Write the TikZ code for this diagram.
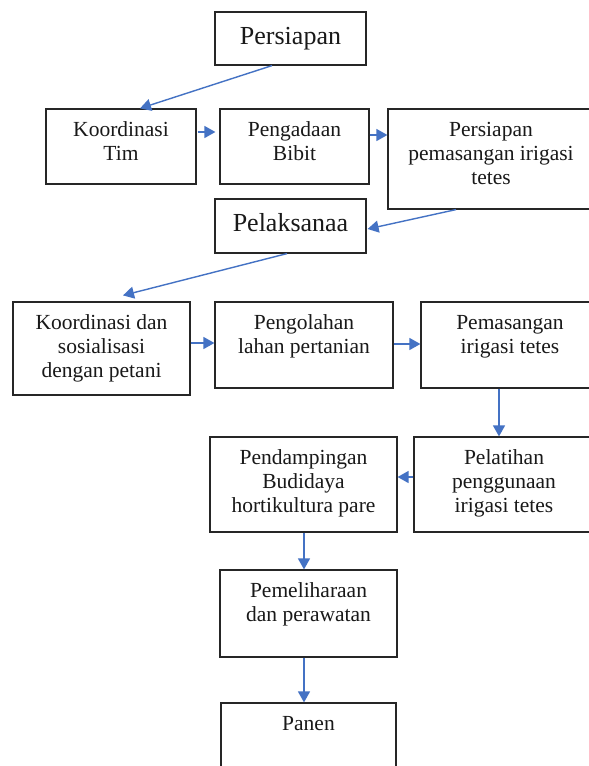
\documentclass[tikz,border=0pt]{standalone}
\usepackage{fontspec}
\setmainfont{Liberation Serif}
\usetikzlibrary{arrows.meta,calc}
\definecolor{arrowblue}{HTML}{4472C4}
\begin{document}
\begin{tikzpicture}[x=1pt,y=-1pt,
  box/.style={draw=black!85, line width=1.2pt, inner sep=0pt, rectangle},
  txt/.style={inner sep=0pt, anchor=north, align=center, text=black!90, font=\fontsize{21.5}{24}\selectfont},
  bigtxt/.style={inner sep=0pt, anchor=base, text=black!90, font=\fontsize{26}{30}\selectfont},
  arr/.style={draw=arrowblue, line width=1.4pt, -{Triangle[length=11pt,width=12pt]}}]
\fill[white] (0,0) rectangle (589,766);
\useasboundingbox (0,0) rectangle (589,766);
\clip (0,0) rectangle (589,766);
% boxes
\node[box, minimum width=151, minimum height=53] (P0) at (290.5,38.5) {};
\node[box, minimum width=150, minimum height=75] (KT) at (121,146.5) {};
\node[box, minimum width=149, minimum height=75] (PB) at (294.5,146.5) {};
\node[box, minimum width=206, minimum height=100] (PPI) at (491,159) {};
\node[box, minimum width=151, minimum height=54] (PL) at (290.5,226) {};
\node[box, minimum width=177, minimum height=93] (KDS) at (101.5,348.5) {};
\node[box, minimum width=178, minimum height=86] (PLP) at (304,345) {};
\node[box, minimum width=178, minimum height=86] (PIT) at (510,345) {};
\node[box, minimum width=180, minimum height=95] (PEL) at (504,484.5) {};
\node[box, minimum width=187, minimum height=95] (PBH) at (303.5,484.5) {};
\node[box, minimum width=177, minimum height=87] (PP) at (308.5,613.5) {};
\node[box, minimum width=175, minimum height=87] (PAN) at (308.5,746.5) {};
% texts
\node[bigtxt] (tP0) at ($(P0.north)+(0,33)$) {Persiapan};
\node[bigtxt] (tPL) at ($(PL.north)+(0,33)$) {Pelaksanaa};
\node[txt] (tKT) at ($(KT.north)+(0,11.2)$) {\strut Koordinasi\\Tim};
\node[txt] (tPB) at ($(PB.north)+(0,11.2)$) {\strut Pengadaan\\Bibit};
\node[txt] (tPPI) at ($(PPI.north)+(0,11.2)$) {\strut Persiapan\\pemasangan irigasi\\tetes};
\node[txt] (tKDS) at ($(KDS.north)+(0,11.2)$) {\strut Koordinasi dan\\sosialisasi\\dengan petani};
\node[txt] (tPLP) at ($(PLP.north)+(0,11.2)$) {\strut Pengolahan\\lahan pertanian};
\node[txt] (tPIT) at ($(PIT.north)+(0,11.2)$) {\strut Pemasangan\\irigasi tetes};
\node[txt] (tPEL) at ($(PEL.north)+(0,11.2)$) {\strut Pelatihan\\penggunaan\\irigasi tetes};
\node[txt] (tPBH) at ($(PBH.north)+(0,11.2)$) {\strut Pendampingan\\Budidaya\\hortikultura pare};
\node[txt] (tPP) at ($(PP.north)+(0,11.2)$) {\strut Pemeliharaan\\dan perawatan};
\node[txt] (tPAN) at ($(PAN.north)+(0,11.2)$) {\strut Panen};
% arrows
\draw[arr] ($(P0.south)+(-18.5,0)$) -- ($(KT.north)+(19,0)$);
\draw[arr] ($(KT.east)+(1,-14.5)$) -- ($(PB.west)+(-4,-14.5)$);
\draw[arr] ($(PB.east)+(0,-11.5)$) -- ($(PPI.west)+(0,-24)$);
\draw[arr] ($(PPI.south)+(-35,0)$) -- ($(PL.east)+(1,3)$);
\draw[arr] ($(PL.south)+(-3.5,0)$) -- ($(KDS.north)+(21.5,-6)$);
\draw[arr] ($(KDS.east)+(0,-5.5)$) -- ($(PLP.west)+(0,-2)$);
\draw[arr] ($(PLP.east)+(0,-1)$) -- ($(PIT.west)+(0,-1)$);
\draw[arr] ($(PIT.south)+(-11,0)$) -- ($(PEL.north)+(-5,0)$);
\draw[arr] ($(PEL.west)+(0,-7.5)$) -- ($(PBH.east)+(0,-7.5)$);
\draw[arr] ($(PBH.south)+(0.5,0)$) -- ($(PP.north)+(-4.5,0)$);
\draw[arr] ($(PP.south)+(-4.5,0)$) -- ($(PAN.north)+(-4.5,0)$);
\end{tikzpicture}
\end{document}
